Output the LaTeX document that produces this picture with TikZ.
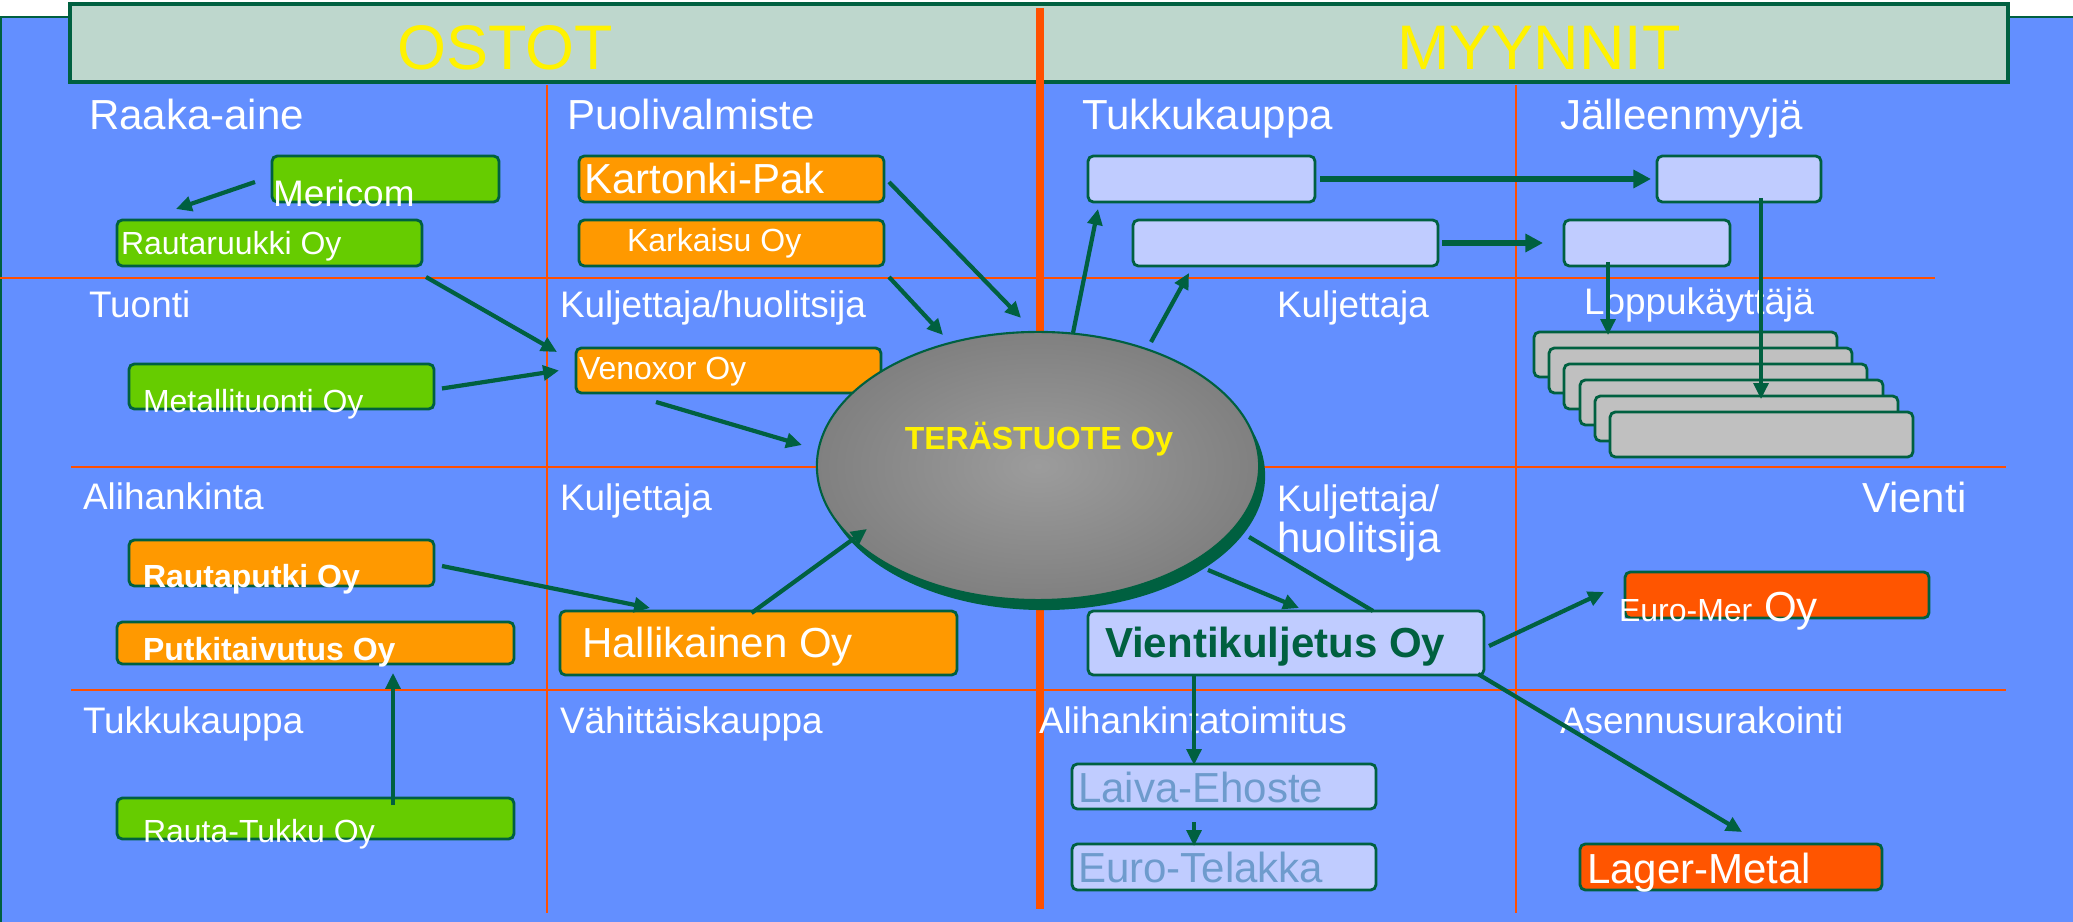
\documentclass[tikz,border=0pt]{standalone}
\usepackage{fontspec}
\setmainfont{Liberation Sans}
\usetikzlibrary{arrows.meta,shapes.geometric,shadows,calc}

\definecolor{bgblue}{RGB}{99,143,255}
\definecolor{titlegrey}{RGB}{190,215,205}
\definecolor{dkgreen}{RGB}{0,96,64}
\definecolor{boxgreen}{RGB}{102,204,0}
\definecolor{boxorange}{RGB}{255,153,0}
\definecolor{boxred}{RGB}{255,85,0}
\definecolor{boxlav}{RGB}{192,204,255}
\definecolor{boxgrey}{RGB}{192,192,192}
\definecolor{gridred}{RGB}{255,80,0}
\definecolor{txtblue}{RGB}{110,155,205}
\definecolor{ellin}{RGB}{156,156,156}
\definecolor{ellout}{RGB}{128,128,128}

\begin{document}
\begin{tikzpicture}[x=0.01cm, y=-0.01cm,
	box/.style={draw=dkgreen, line width=0.8pt, rounded corners=1.5pt, inner sep=0pt, outer sep=0pt, anchor=north west},
	sz/.style 2 args={minimum width=#1*0.01cm, minimum height=#2*0.01cm},
	gbox/.style={box, fill=boxgreen},
	obox/.style={box, fill=boxorange},
	rbox/.style={box, fill=boxred},
	lbox/.style={box, fill=boxlav},
	sbox/.style={box, fill=boxgrey},
	lbl/.style={inner sep=0pt, outer sep=0pt, anchor=base west, text=white},
	fbig/.style={font=\fontsize{11.95}{14}\selectfont},
	fmid/.style={font=\fontsize{10.5}{12}\selectfont},
	fsml/.style={font=\fontsize{9.1}{11}\selectfont},
	arr/.style={dkgreen, line width=1.2pt, -{Triangle[length=4.5pt, width=4.2pt]}},
	arrt/.style={arr, line width=1pt},
	arrb/.style={dkgreen, line width=1.5pt, -{Triangle[length=5pt, width=5pt]}},
	lin/.style={dkgreen, line width=1.2pt}]
	\useasboundingbox (0,0) rectangle (2073,922);
	% background and title bar
	\fill[bgblue] (0,17) rectangle (2073,922);
	\draw[dkgreen, line width=0.6pt] (1,922) -- (1,17) -- (2073,17);
	\draw[fill=titlegrey, draw=dkgreen, line width=0.9pt] (70,4) rectangle (2008,82);
	\node[font=\fontsize{17.9}{20}\selectfont, text=yellow, inner sep=0pt, anchor=base] (ostot) at (505,70) {OSTOT};
	\node[font=\fontsize{17.9}{20}\selectfont, text=yellow, inner sep=0pt, anchor=base] (myynnit) at (1539,70) {MYYNNIT};
	% grid
	\draw[gridred, line width=0.6pt] (0,278) -- (1935,278);
	\draw[gridred, line width=0.6pt] (71,467) -- (2006,467);
	\draw[gridred, line width=0.6pt] (71,690) -- (2006,690);
	\draw[gridred, line width=0.6pt] (547,85) -- (547,913);
	\draw[gridred, line width=0.6pt] (1516,85) -- (1516,913);
	\draw[gridred, line width=2.3pt] (1040,8) -- (1040,909);
	% ostot boxes
	\node[gbox, sz={227}{46}] (mericom) at (272,156) {};
	\node[gbox, sz={305}{46}] (rautaruukki) at (117,220) {};
	\node[obox, sz={305}{46}] (kartonki) at (579,156) {};
	\node[obox, sz={305}{46}] (karkaisu) at (579,220) {};
	\node[obox, sz={305}{45}] (venoxor) at (576,348) {};
	\node[gbox, sz={305}{45}] (metallituonti) at (129,364) {};
	\node[obox, sz={305}{46}] (rautaputki) at (129,540) {};
	\node[obox, sz={397}{42}] (putkitaivutus) at (117,622) {};
	\node[obox, sz={397}{64}] (hallikainen) at (560,611) {};
	\node[gbox, sz={397}{41}] (rautatukku) at (117,798) {};
	% myynnit boxes
	\node[lbox, sz={227}{46}] (tukku1) at (1088,156) {};
	\node[lbox, sz={305}{46}] (tukku2) at (1133,220) {};
	\node[lbox, sz={164}{46}] (jalleen1) at (1657,156) {};
	\node[lbox, sz={166}{46}] (jalleen2) at (1564,220) {};
	\node[sbox, sz={303}{45}] (stack1) at (1534,332) {};
	\node[sbox, sz={303}{45}] (stack2) at (1549,348) {};
	\node[sbox, sz={303}{45}] (stack3) at (1564,364) {};
	\node[sbox, sz={303}{45}] (stack4) at (1580,380) {};
	\node[sbox, sz={303}{45}] (stack5) at (1595,396) {};
	\node[sbox, sz={303}{45}] (stack6) at (1610,412) {};
	\node[lbox, sz={396}{64}] (vientikuljetus) at (1088,611) {};
	\node[rbox, sz={304}{46}] (euromer) at (1625,572) {};
	\node[lbox, sz={304}{45}] (laiva) at (1072,764) {};
	\node[lbox, sz={304}{46}] (eurotelakka) at (1072,844) {};
	\node[rbox, sz={302}{46}] (lager) at (1580,844) {};
	% company
	\node[ellipse, draw=dkgreen, line width=0.6pt, inner sep=0pt, outer sep=0pt, minimum width=4.42cm, minimum height=2.68cm,
		inner color=ellin, outer color=ellout,
		drop shadow={shadow xshift=0.06cm, shadow yshift=-0.1cm, fill=dkgreen, opacity=1}] (terastuote) at (1038,466) {};
	\node[inner sep=0pt, anchor=base, text=yellow, font=\fontsize{9.1}{11}\selectfont\bfseries] (terastuotetxt) at (1039,450) {TERÄSTUOTE Oy};
	% headings
	\node[lbl, fbig] (raaka) at (89,130) {Raaka-aine};
	\node[lbl, fbig] (puoli) at (567,130) {Puolivalmiste};
	\node[lbl, fbig] (tukkuR) at (1082,130) {Tukkukauppa};
	\node[lbl, fbig] (jalleen) at (1560,130) {Jälleenmyyjä};
	\node[lbl, fmid] (tuonti) at (89,318) {Tuonti};
	\node[lbl, fmid] (kulhuo) at (560,318) {Kuljettaja/huolitsija};
	\node[lbl, fmid] (kuljR) at (1277,318) {Kuljettaja};
	\node[lbl, fmid] (loppu) at (1584,315) {Loppukäyttäjä};
	\node[lbl, fmid] (alihank) at (83,510) {Alihankinta};
	\node[lbl, fmid] (kuljM) at (560,511) {Kuljettaja};
	\node[lbl, fmid] (kuljV) at (1277,512) {Kuljettaja/};
	\node[lbl, fbig] (huolV) at (1277,553) {huolitsija};
	\node[lbl, fbig] (vienti) at (1862,513) {Vienti};
	\node[lbl, fmid] (tukkuL) at (83,733) {Tukkukauppa};
	\node[lbl, fmid] (vahitt) at (560,733) {Vähittäiskauppa};
	\node[lbl, fmid] (alitoim) at (1039,733) {Alihankintatoimitus};
	\node[lbl, fmid] (asennus) at (1560,733) {Asennusurakointi};
	% box texts
	\node[lbl, fmid] (mericomtxt) at (273,207) {Mericom};
	\node[lbl, fsml] (rautaruukkitxt) at (121,255) {Rautaruukki Oy};
	\node[lbl, fbig] (kartonkitxt) at (584,194) {Kartonki-Pak};
	\node[lbl, fsml] (karkaisutxt) at (627,252) {Karkaisu Oy};
	\node[lbl, fsml] (venoxortxt) at (579,380) {Venoxor Oy};
	\node[lbl, fsml] (metallituontitxt) at (143,413) {Metallituonti Oy};
	\node[lbl, fsml, font=\fontsize{9.1}{11}\selectfont\bfseries] (rautaputkitxt) at (143,588) {Rautaputki Oy};
	\node[lbl, fsml, font=\fontsize{9.1}{11}\selectfont\bfseries] (putkitaivutustxt) at (143,660) {Putkitaivutus Oy};
	\node[lbl, fbig] (hallikainentxt) at (582,657) {Hallikainen Oy};
	\node[lbl, fsml] (rautatukkutxt) at (143,842) {Rauta-Tukku Oy};
	\node[lbl, text=dkgreen, font=\fontsize{11.95}{14}\selectfont\bfseries] (vientikuljetustxt) at (1105,658) {Vientikuljetus Oy};
	\node[lbl, fbig] (euromertxt) at (1619,622) {{\fontsize{9.1}{11}\selectfont Euro-Mer} Oy};
	\node[lbl, fbig, text=txtblue] (laivatxt) at (1078,802) {Laiva-Ehoste};
	\node[lbl, fbig, text=txtblue] (eurotelakkatxt) at (1078,882) {Euro-Telakka};
	\node[lbl, fbig] (lagertxt) at (1587,883) {Lager-Metal};
	% ostot arrows
	\draw[arr] ($(mericom.west)+(-17,3)$) -- ($(rautaruukki.north west)+(59,-11)$);
	\draw[arr] ($(rautaruukki.south east)+(4,11)$) -- ($(venoxor.north west)+(-19,4)$);
	\draw[arr] ($(metallituonti.east)+(8,2)$) -- ($(venoxor.west)+(-17,0)$);
	\draw[arr] ($(kartonki.east)+(5,3)$) -- ($(terastuote.north)+(-17,-14)$);
	\draw[arr] ($(karkaisu.south east)+(5,11)$) -- ($(terastuote.center)+(-95,-131)$);
	\draw[arr] ($(venoxor.south west)+(80,9)$) -- ($(terastuote.west)+(-15,-21)$);
	\draw[arr] ($(rautaputki.east)+(8,3)$) -- ($(hallikainen.north west)+(90,-3)$);
	\draw[arr] ($(hallikainen.north)+(-7,2)$) -- ($(terastuote.center)+(-171,63)$);
	\draw[arrt] ($(rautatukku.north west)+(276,7)$) -- ($(putkitaivutus.south west)+(276,9)$);
	% myynnit arrows
	\draw[arr] ($(terastuote.north)+(35,1)$) -- ($(tukku1.south west)+(10,7)$);
	\draw[arr] ($(terastuote.center)+(113,-124)$) -- ($(tukku2.south west)+(56,7)$);
	\draw[arrb] ($(tukku1.east)+(5,0)$) -- ($(jalleen1.west)+(-6,0)$);
	\draw[arrb] ($(tukku2.east)+(4,0)$) -- ($(jalleen2.west)+(-21,0)$);
	\draw[arrt] ($(jalleen2.south west)+(44,-4)$) -- ($(stack1.north west)+(74,3)$);
	\draw[arrt] ($(jalleen1.south west)+(104,-4)$) -- ($(stack5.north west)+(166,3)$);
	\draw[arr] ($(terastuote.center)+(170,104)$) -- ($(vientikuljetus.north west)+(211,-3)$);
	\draw[lin] ($(terastuote.center)+(211,71)$) -- ($(vientikuljetus.north west)+(285,0)$);
	\draw[arr] ($(vientikuljetus.east)+(5,3)$) -- ($(euromer.west)+(-21,-3)$);
	\draw[arr] ($(vientikuljetus.south east)+(-6,-1)$) -- ($(lager.north west)+(162,-12)$);
	\draw[arrt] ($(vientikuljetus.south west)+(106,0)$) -- ($(laiva.north west)+(122,1)$);
	\draw[arrt] ($(laiva.south west)+(122,13)$) -- ($(eurotelakka.north west)+(122,2)$);
\end{tikzpicture}
\end{document}
